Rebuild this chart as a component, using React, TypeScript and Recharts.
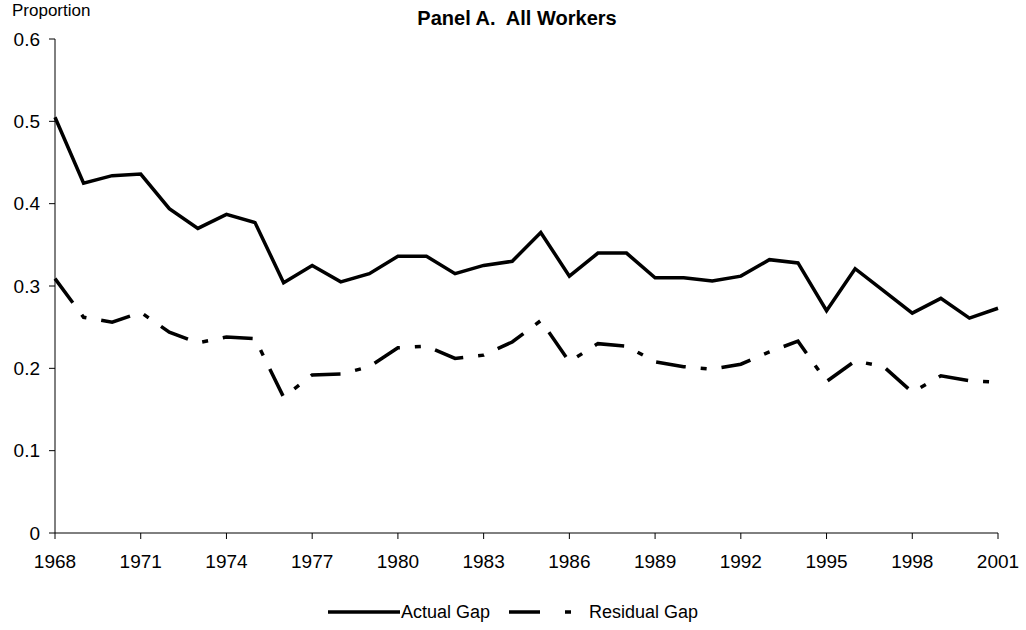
import { Line, LineChart, XAxis, YAxis } from "recharts";

const years = [
  1968, 1969, 1970, 1971, 1972, 1973, 1974, 1975, 1976, 1977, 1978, 1979, 1980, 1981, 1982, 1983, 1984,
  1985, 1986, 1987, 1988, 1989, 1990, 1991, 1992, 1993, 1994, 1995, 1996, 1997, 1998, 1999, 2000, 2001,
];
const actualGap = [
  0.505, 0.425, 0.434, 0.436, 0.394, 0.37, 0.387, 0.377, 0.304, 0.325, 0.305, 0.315, 0.336, 0.336, 0.315,
  0.325, 0.33, 0.365, 0.312, 0.34, 0.34, 0.31, 0.31, 0.306, 0.312, 0.332, 0.328, 0.27, 0.321, 0.294, 0.267,
  0.285, 0.261, 0.273,
];
const residualGap = [
  0.309, 0.262, 0.256, 0.268, 0.244, 0.231, 0.238, 0.236, 0.165, 0.192, 0.193, 0.202, 0.225, 0.227, 0.212,
  0.216, 0.232, 0.258, 0.208, 0.23, 0.227, 0.208, 0.202, 0.199, 0.205, 0.22, 0.233, 0.184, 0.209, 0.202,
  0.171, 0.191, 0.185, 0.183,
];
const xTicks = [1968, 1971, 1974, 1977, 1980, 1983, 1986, 1989, 1992, 1995, 1998, 2001];
const yTicks = [0, 0.1, 0.2, 0.3, 0.4, 0.5, 0.6];

const data = years.map((year, i) => ({ year, actual: actualGap[i], residual: residualGap[i] }));

const FONT = "'Liberation Sans', Arial, sans-serif";
const DASH = "30 15 6 15";

// legend drawn by hand so it does not eat plot height
function GapLegend() {
  return (
    <div
      style={{
        position: "absolute",
        left: 0,
        top: 600,
        width: 1026,
        height: 24,
        display: "flex",
        justifyContent: "center",
        alignItems: "center",
        fontFamily: FONT,
        fontSize: 18,
        color: "#000",
      }}
    >
      <svg width={72} height={10}>
        <line x1={0} y1={5} x2={72} y2={5} stroke="#000" strokeWidth={3.5} />
      </svg>
      <span style={{ marginLeft: 1, marginRight: 19 }}>Actual Gap</span>
      <svg width={72} height={10}>
        <line x1={0} y1={5} x2={72} y2={5} stroke="#000" strokeWidth={3.5} strokeDasharray="31 25 6 25" />
      </svg>
      <span style={{ marginLeft: 8 }}>Residual Gap</span>
    </div>
  );
}

export default function App() {
  return (
    <div style={{ position: "absolute", left: 0, top: 0, width: 1026, height: 630, background: "#fff" }}>
      <LineChart width={1026} height={630} data={data} margin={{ top: 39, right: 28, bottom: 0, left: 0 }}>
        <XAxis
          dataKey="year"
          type="number"
          domain={[1968, 2001]}
          ticks={xTicks}
          interval={0}
          height={97}
          tickSize={6}
          tickMargin={16}
          axisLine={{ stroke: "#000" }}
          tickLine={{ stroke: "#000" }}
          tick={{ fill: "#000", fontSize: 19, fontFamily: FONT }}
        />
        <YAxis
          width={55}
          domain={[0, 0.6]}
          ticks={yTicks}
          interval={0}
          tickSize={6}
          tickMargin={9}
          axisLine={{ stroke: "#000" }}
          tickLine={{ stroke: "#000" }}
          tick={{ fill: "#000", fontSize: 19, fontFamily: FONT }}
          tickFormatter={(v: number) => (v === 0 ? "0" : v.toFixed(1))}
        />
        <Line type="linear" dataKey="actual" name="Actual Gap" stroke="#000" strokeWidth={3.5} dot={false} isAnimationActive={false} />
        <Line
          type="linear"
          dataKey="residual"
          name="Residual Gap"
          stroke="#000"
          strokeWidth={3.5}
          strokeDasharray={DASH}
          dot={false}
          isAnimationActive={false}
        />
      </LineChart>
      <GapLegend />
      <svg width={1026} height={40} style={{ position: "absolute", left: 0, top: 0, pointerEvents: "none" }}>
        <text x={12} y={16} fontFamily={FONT} fontSize={17} fill="#000">
          Proportion
        </text>
        <text x={517} y={25} textAnchor="middle" fontFamily={FONT} fontSize={20} fontWeight="bold" fill="#000" xmlSpace="preserve">
          Panel A.  All Workers
        </text>
      </svg>
    </div>
  );
}
